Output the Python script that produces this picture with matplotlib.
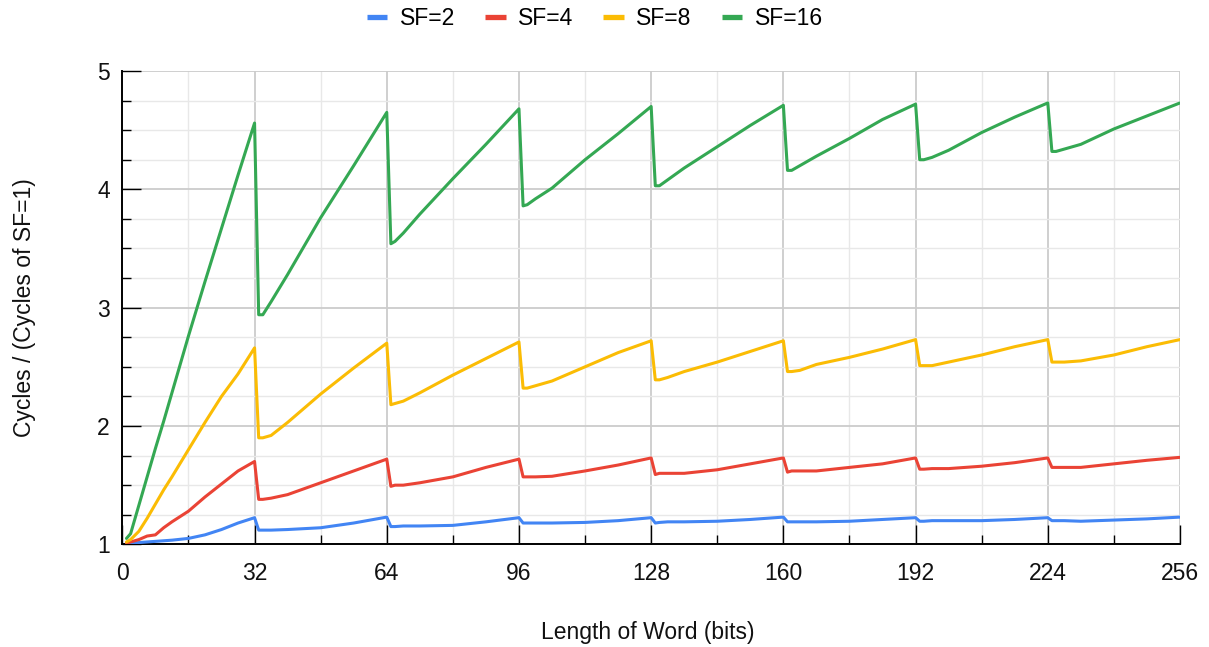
import matplotlib
matplotlib.use("Agg")
import matplotlib.pyplot as plt
from matplotlib.ticker import MultipleLocator
from matplotlib.lines import Line2D

plt.rcParams["font.family"] = ["Liberation Sans", "DejaVu Sans"]

# Word length (bits) at which each ratio was sampled
word_bits = [1, 2, 4, 6, 8, 10, 12, 16, 20, 24, 28, 32,
             33, 34, 36, 40, 48, 56, 64,
             65, 66, 68, 72, 80, 88, 96,
             97, 98, 100, 104, 112, 120, 128,
             129, 130, 132, 136, 144, 152, 160,
             161, 162, 164, 168, 176, 184, 192,
             193, 194, 196, 200, 208, 216, 224,
             225, 226, 228, 232, 240, 248, 256]

sf2 = [1.01, 1.01, 1.015, 1.02, 1.025, 1.03, 1.035, 1.05, 1.08, 1.125, 1.18, 1.225,
       1.12, 1.12, 1.12, 1.125, 1.14, 1.18, 1.23,
       1.15, 1.15, 1.155, 1.155, 1.16, 1.19, 1.225,
       1.18, 1.18, 1.18, 1.18, 1.185, 1.20, 1.225,
       1.18, 1.185, 1.19, 1.19, 1.195, 1.21, 1.23,
       1.19, 1.19, 1.19, 1.19, 1.195, 1.21, 1.225,
       1.195, 1.195, 1.20, 1.20, 1.20, 1.21, 1.225,
       1.20, 1.20, 1.20, 1.195, 1.205, 1.215, 1.23]

sf4 = [1.01, 1.02, 1.04, 1.07, 1.08, 1.14, 1.19, 1.28, 1.40, 1.51, 1.62, 1.70,
       1.38, 1.38, 1.39, 1.42, 1.52, 1.62, 1.72,
       1.49, 1.50, 1.50, 1.52, 1.57, 1.65, 1.72,
       1.57, 1.57, 1.57, 1.575, 1.62, 1.67, 1.73,
       1.59, 1.60, 1.60, 1.60, 1.63, 1.68, 1.73,
       1.61, 1.62, 1.62, 1.62, 1.65, 1.68, 1.73,
       1.635, 1.635, 1.64, 1.64, 1.66, 1.69, 1.73,
       1.65, 1.65, 1.65, 1.65, 1.68, 1.71, 1.735]

sf8 = [1.02, 1.04, 1.11, 1.22, 1.34, 1.46, 1.57, 1.80, 2.03, 2.25, 2.44, 2.66,
       1.90, 1.90, 1.92, 2.03, 2.27, 2.49, 2.70,
       2.18, 2.19, 2.21, 2.28, 2.43, 2.57, 2.71,
       2.32, 2.32, 2.34, 2.38, 2.50, 2.62, 2.72,
       2.39, 2.39, 2.41, 2.46, 2.54, 2.63, 2.72,
       2.46, 2.46, 2.47, 2.52, 2.58, 2.65, 2.73,
       2.51, 2.51, 2.51, 2.54, 2.60, 2.67, 2.73,
       2.54, 2.54, 2.54, 2.55, 2.60, 2.67, 2.73]

sf16 = [1.05, 1.09, 1.33, 1.57, 1.81, 2.04, 2.28, 2.76, 3.22, 3.67, 4.12, 4.56,
        2.94, 2.94, 3.05, 3.28, 3.76, 4.20, 4.65,
        3.54, 3.56, 3.63, 3.79, 4.09, 4.38, 4.68,
        3.86, 3.87, 3.92, 4.01, 4.25, 4.47, 4.70,
        4.03, 4.03, 4.08, 4.18, 4.36, 4.54, 4.71,
        4.16, 4.16, 4.20, 4.28, 4.43, 4.59, 4.72,
        4.25, 4.25, 4.27, 4.33, 4.48, 4.61, 4.73,
        4.32, 4.32, 4.34, 4.38, 4.51, 4.62, 4.73]

series_names = ["SF=2", "SF=4", "SF=8", "SF=16"]
series_colors = ["#4285F4", "#EA4335", "#FBBC04", "#34A853"]

fig = plt.figure(figsize=(12.09, 6.47), dpi=100)
ax = fig.add_axes([0.1012, 0.1587, 0.8748, 0.7316])

for vals, color in zip([sf2, sf4, sf8, sf16], series_colors):
    ax.plot(word_bits, vals, color=color, lw=2.2,
            solid_joinstyle="round", solid_capstyle="round", zorder=3)

ax.set_xlim(0, 256)
ax.set_ylim(1, 5)
ax.xaxis.set_major_locator(MultipleLocator(32))
ax.xaxis.set_minor_locator(MultipleLocator(16))
ax.yaxis.set_major_locator(MultipleLocator(1))
ax.yaxis.set_minor_locator(MultipleLocator(0.25))

ax.grid(which="major", color="#cccccc", lw=1.3)
ax.grid(which="minor", color="#e8e8e8", lw=1.0)
ax.set_axisbelow(True)

for side in ("top", "right"):
    ax.spines[side].set_visible(False)
for side in ("left", "bottom"):
    ax.spines[side].set_color("black")
    ax.spines[side].set_linewidth(1.4)

ax.tick_params(which="major", direction="in", length=13.5, width=1.0,
               color="black", labelsize=16.5, labelcolor="#111111")
ax.tick_params(axis="x", which="major", pad=13)
ax.tick_params(axis="y", which="major", pad=9)
ax.tick_params(which="minor", direction="in", length=6.5, width=1.0,
               color="black")

ax.set_xlabel("Length of Word (bits)", fontsize=16.5, color="#111111")
ax.set_ylabel("Cycles / (Cycles of SF=1)", fontsize=16.5, color="#111111")
ax.xaxis.set_label_coords(0.497, -0.162)
ax.yaxis.set_label_coords(-0.082, 0.5)

handles = [Line2D([], [], color=c, lw=3.8, solid_capstyle="butt")
           for c in series_colors]
fig.legend(handles, series_names, loc="center", bbox_to_anchor=(0.492, 0.971),
           ncol=4, frameon=False, fontsize=16.5, handlelength=0.9,
           handletextpad=0.55, columnspacing=1.3)

fig.savefig("out.png", dpi=100)
